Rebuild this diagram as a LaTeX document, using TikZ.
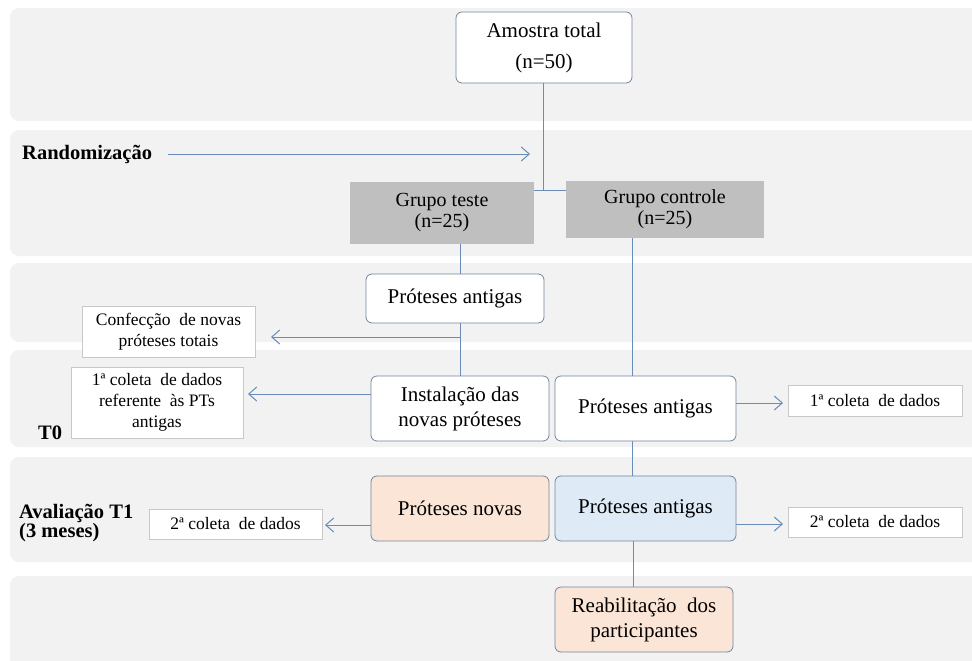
\documentclass[tikz,border=0pt]{standalone}
\usepackage{fontspec}
\setmainfont{Liberation Serif}
\usetikzlibrary{arrows.meta}
\definecolor{bandfill}{HTML}{F2F2F2}
\definecolor{lineblue}{HTML}{6A8CB8}
\definecolor{boxedge}{HTML}{74859C}
\definecolor{smalledge}{HTML}{C8C8C8}
\definecolor{grayfill}{HTML}{BFBFBF}
\definecolor{peach}{HTML}{FBE5D6}
\definecolor{lightblue}{HTML}{DEEBF7}
\tikzset{
  band/.style={fill=bandfill, draw=none, rounded corners=9pt},
  rbox/.style={draw=boxedge, line width=0.8pt, rounded corners=6pt, fill=white, align=center, inner sep=2pt, font=\fontsize{21}{25}\selectfont},
  gbox/.style={draw=none, fill=grayfill, align=center, inner sep=2pt, font=\fontsize{20}{21}\selectfont},
  sbox/.style={draw=smalledge, line width=0.8pt, fill=white, align=center, inner sep=2pt, font=\fontsize{17.5}{21}\selectfont},
  lbl/.style={font=\bfseries\fontsize{20.5}{19}\selectfont, align=left, inner sep=0pt},
  conn/.style={draw=lineblue, line width=1pt},
  arr/.style={conn, -{Straight Barb[length=8pt,width=14pt,line width=1pt]}},
}
\begin{document}
\begin{tikzpicture}[x=1pt,y=-1pt]
\useasboundingbox (0,0) rectangle (972,661);
\clip (0,0) rectangle (972,661);
\fill[white] (0,0) rectangle (972,661);
% bands
\path[band] (10,8) rectangle (995,121);
\path[band] (10,130) rectangle (995,256);
\path[band] (10,263) rectangle (995,342);
\path[band] (10,350) rectangle (995,447);
\path[band] (10,457) rectangle (995,562);
\path[band] (10,576) rectangle (995,690);

% coordinates for connector routes
\coordinate (j) at (543,190);
\coordinate (ra) at (530,154);
\coordinate (tx) at (460,243);
\coordinate (cx) at (632,238);
\coordinate (cf) at (460,337);
\coordinate (cfend) at (271,337);
\coordinate (c1end) at (248,394);
\coordinate (c1rend) at (783,403);
\coordinate (c2end) at (325,525);
\coordinate (c2rend) at (783,524);

% connectors (drawn first, boxes on top)
\draw[conn] (543,83) -- (j);
\draw[conn] (534,190) -- (566,190);
\draw[conn] (tx) -- (460,376);
\draw[conn] (cx) -- (632,376);
\draw[conn] (632,441) -- (632,476);
\draw[conn] (633,541) -- (633,587);

% nodes
\node[rbox, minimum width=176pt, minimum height=71pt] (amostra) at (544,47.5) {Amostra total\\[6pt](n=50)};
\node[gbox, minimum width=184pt, minimum height=62pt] (gteste) at (442,213) {Grupo teste\\(n=25)};
\node[gbox, minimum width=198pt, minimum height=57pt] (gcontrole) at (665,209.5) {Grupo controle\\(n=25)};
\node[rbox, minimum width=178pt, minimum height=49pt] (pa) at (455,298.5) {\raisebox{-3pt}{Próteses antigas}};
\node[sbox, minimum width=173pt, minimum height=51pt] (conf) at (168.5,331.5) {Confecção\ \ de novas\\próteses totais};
\node[sbox, minimum width=172pt, minimum height=71pt] (c1) at (157,402.5) {1ª coleta\ \ de dados\\referente\ \ às PTs\\antigas};
\node[rbox, minimum width=178pt, minimum height=65pt] (inst) at (460,408.5) {Instalação das\\novas próteses};
\node[rbox, minimum width=181pt, minimum height=65pt] (pa0) at (645.5,408.5) {Próteses antigas};
\node[sbox, minimum width=174pt, minimum height=31pt] (c1r) at (875,400.5) {1ª coleta\ \ de dados};
\node[rbox, fill=peach, minimum width=178pt, minimum height=65pt] (pn) at (460,508.5) {Próteses novas};
\node[rbox, fill=lightblue, minimum width=181pt, minimum height=65pt] (pa1) at (645.5,508.5) {\raisebox{3pt}{Próteses antigas}};
\node[sbox, minimum width=173pt, minimum height=30pt] (c2) at (235.5,524) {2ª coleta\ \ de dados};
\node[sbox, minimum width=174pt, minimum height=30pt] (c2r) at (875,522) {2ª coleta\ \ de dados};
\node[rbox, fill=peach, minimum width=178pt, minimum height=65pt] (reab) at (644,619.5) {Reabilitação\ \ dos\\participantes};

% labels
\node[lbl, anchor=west] (rand) at (22,154) {Randomização};
\node[lbl, anchor=west] (t0) at (38,433) {T0};
\node[lbl, anchor=west] (aval) at (19,523) {Avaliação T1\\(3 meses)};

% arrows
\draw[arr] ([xshift=16pt]rand.east) -- (ra);
\draw[arr] (cf) -- (cfend);
\draw[arr] (inst.west |- c1end) -- (c1end);
\draw[arr] (pa0.east |- c1rend) -- (c1rend);
\draw[arr] (pn.west |- c2end) -- (c2end);
\draw[arr] (pa1.east |- c2rend) -- (c2rend);
\end{tikzpicture}
\end{document}
